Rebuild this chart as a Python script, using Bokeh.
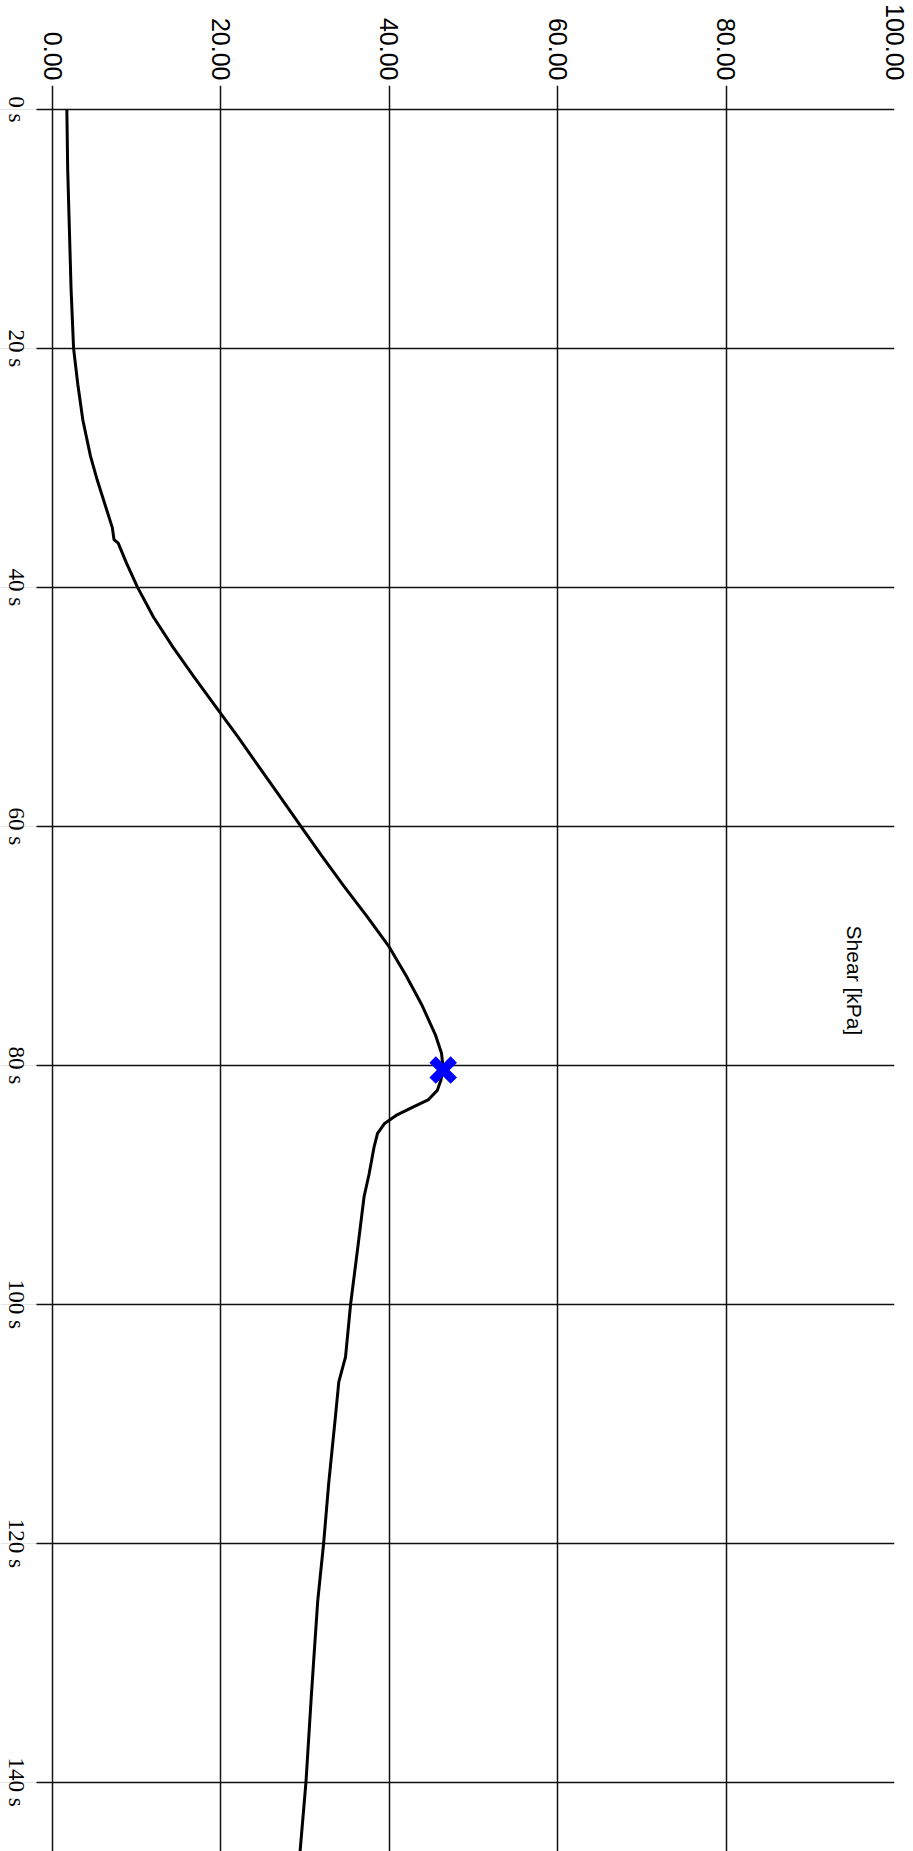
import math
from bokeh.plotting import figure
from bokeh.models import (Range1d, FixedTicker, PrintfTickFormatter, Label,
                          LabelSet, ColumnDataSource, Grid)
from bokeh.embed import file_html
from bokeh.resources import INLINE

# ---- data ----
time_s = [0, 5, 10, 15, 20, 23, 26, 29, 31, 33, 35, 36, 36.3, 38, 40, 42.5, 45,
          47.5, 50, 52.5, 55, 57.5, 60, 62.5, 65, 67.5, 70, 72.5, 75, 77.5, 79,
          80.3, 81.3, 82.1, 82.9, 83.5, 84.2, 84.9, 85.7, 86.8, 89.1, 91, 95, 100,
          104.4, 106.5, 109.4, 115, 120, 124.8, 130, 133.2, 140, 145.8]
shear_kpa = [1.7, 1.8, 2.0, 2.2, 2.5, 3.0, 3.6, 4.5, 5.3, 6.2, 7.1, 7.3, 7.8, 8.8,
             10.1, 12.0, 14.3, 16.8, 19.4, 22.0, 24.5, 27.0, 29.5, 32.0, 34.6, 37.3,
             39.9, 42.0, 43.9, 45.5, 46.2, 46.4, 46.1, 45.7, 44.6, 42.8, 40.8, 39.4,
             38.6, 38.2, 37.6, 37.0, 36.3, 35.4, 34.8, 34.0, 33.6, 32.8, 32.2, 31.5,
             31.0, 30.7, 30.1, 29.4]
peak_time = [80.4]
peak_shear = [46.4]
shear_ticks = [0, 20, 40, 60, 80, 100]
time_ticks = [0, 20, 40, 60, 80, 100, 120, 140]
time_tick_labels = ["0 s", "20 s", "40 s", "60 s", "80 s", "100 s", "120 s", "140 s"]
axis_title = "Shear [kPa]"

# ---- layout (ranges extended so the tick marks / time labels sit inside the frame)
X_START, X_END = -6.18, 100      # frame spans the whole width left of 100 kPa
Y_TOP, Y_END = -2.0, 145.8       # frame top sits where the shear ticks start
TICK_X = -1.9                    # left end of the time tick marks
FONT = "Liberation Sans"
LINE = "#111111"

p = figure(width=913, height=1851, output_backend="svg", toolbar_location=None,
           x_range=Range1d(X_START, X_END), y_range=Range1d(Y_END, Y_TOP),
           x_axis_location="above", y_axis_location=None,
           min_border_left=0, min_border_top=85, min_border_right=19,
           min_border_bottom=0)
p.outline_line_color = None
p.background_fill_color = "white"
p.border_fill_color = "white"

# shear axis (top): labels only, the grid lines make the tick marks
xa = p.xaxis[0]
xa.ticker = FixedTicker(ticks=shear_ticks)
xa.formatter = PrintfTickFormatter(format="%.2f")
xa.major_label_orientation = -math.pi / 2
xa.major_label_text_font = FONT
xa.major_label_text_font_size = "25px"
xa.major_label_text_color = "black"
xa.major_label_standoff = 5
xa.major_tick_out = 0
xa.major_tick_in = 0
xa.minor_tick_out = 0
xa.minor_tick_in = 0
xa.axis_line_color = None

xg = p.xgrid[0]
xg.ticker = FixedTicker(ticks=shear_ticks)
xg.cross_bounds = (Y_TOP, Y_END)
xg.grid_line_color = LINE
xg.grid_line_width = 1.5

yg = Grid(dimension=1, ticker=FixedTicker(ticks=time_ticks),
          cross_bounds=(TICK_X, X_END), grid_line_color=LINE, grid_line_width=1.5)
p.add_layout(yg)

# time tick labels, centred on the ticks, reading top to bottom
tick_src = ColumnDataSource(dict(t=time_ticks, label=time_tick_labels))
p.add_layout(LabelSet(x=8, y="t", text="label", source=tick_src,
                      x_units="screen", y_units="data", angle=-math.pi / 2,
                      text_align="center", text_baseline="alphabetic",
                      text_font=FONT, text_font_size="23px", text_color="black"))

p.line(x=shear_kpa, y=time_s, line_color="black", line_width=3)
p.scatter(x=peak_shear, y=peak_time, marker="x", size=30, line_width=9,
          line_color="#0000ff")

p.add_layout(Label(x=95.3, y=(Y_TOP + Y_END) / 2 + 1.0, text=axis_title,
                   angle=-math.pi / 2, text_align="center", text_baseline="middle",
                   text_font=FONT, text_font_size="21px", text_color="black"))

open("out.html", "w").write(file_html(p, INLINE))
